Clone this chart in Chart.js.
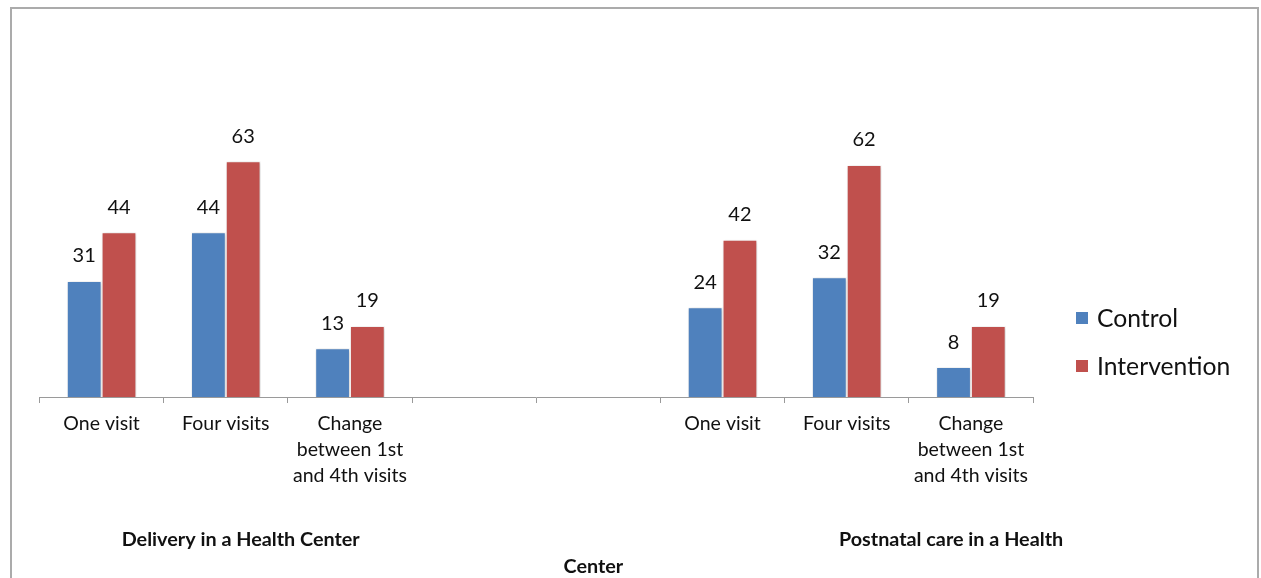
<!DOCTYPE html>
<html>
<head>
<meta charset="utf-8">
<script src="https://cdn.jsdelivr.net/npm/chart.js@4/dist/chart.umd.min.js"></script>
<style>
  html, body { margin: 0; padding: 0; background: #fff; }
  body { width: 1261px; height: 578px; overflow: hidden; position: relative; }
  #frame { position: absolute; left: 10px; top: 7px; width: 1249px; height: 640px;
           border: 2px solid #ababab; box-sizing: border-box; }
  #wrap { position: absolute; left: 0; top: 0; width: 1261px; height: 578px; }
</style>
</head>
<body>
<div id="frame"></div>
<div id="wrap"><canvas id="c" width="1261" height="578"></canvas></div>
<script>
// Visit categories along the x axis (two blank slots separate the two groups)
const categories = [
  'One visit', 'Four visits', ['Change', 'between 1st', 'and 4th visits'],
  '', '',
  'One visit', 'Four visits', ['Change', 'between 1st', 'and 4th visits']
];
const seriesNames = ['Control', 'Intervention'];
const controlValues      = [31, 44, 13, null, null, 24, 32, 8];
const interventionValues = [44, 63, 19, null, null, 42, 62, 19];
const groupTitles = ['Delivery in a Health Center', 'Postnatal care in a Health', 'Center'];

const BLUE = '#4F81BD';
const RED = '#C0504D';
const FONT = 'Lato, "Open Sans", sans-serif';

// Soft drop shadow behind the bars
const barShadow = {
  id: 'barShadow',
  beforeDatasetsDraw(chart) {
    const ctx = chart.ctx;
    ctx.save();
    ctx.shadowColor = 'rgba(0,0,0,0.22)';
    ctx.shadowBlur = 4;
    ctx.shadowOffsetX = 1;
    ctx.shadowOffsetY = 1;
  },
  afterDatasetsDraw(chart) { chart.ctx.restore(); }
};

// Value labels above each bar
const valueLabels = {
  id: 'valueLabels',
  afterDatasetsDraw(chart) {
    const ctx = chart.ctx;
    ctx.save();
    ctx.font = '20px ' + FONT;
    ctx.fillStyle = '#111';
    ctx.textAlign = 'center';
    ctx.textBaseline = 'middle';
    chart.data.datasets.forEach((ds, di) => {
      chart.getDatasetMeta(di).data.forEach((bar, i) => {
        const v = ds.data[i];
        if (v === null || v === undefined) return;
        ctx.fillText(String(v), bar.x, bar.y - 25);
      });
    });
    ctx.restore();
  }
};

// Group titles under the category labels, plus the legend on the right
const groupsAndLegend = {
  id: 'groupsAndLegend',
  afterDraw(chart) {
    const ctx = chart.ctx;
    const x = chart.scales.x;
    ctx.save();
    ctx.fillStyle = '#111';
    ctx.textAlign = 'center';
    ctx.textBaseline = 'middle';
    ctx.font = 'bold 19.8px ' + FONT;
    const spots = [[1.12, 540], [6.84, 540], [3.96, 567]];
    groupTitles.forEach((t, i) => {
      ctx.fillText(t, x.getPixelForValue(spots[i][0]), spots[i][1]);
    });

    ctx.font = '24.7px ' + FONT;
    ctx.textAlign = 'left';
    const colors = [BLUE, RED];
    const rows = [318, 366];
    seriesNames.forEach((name, i) => {
      ctx.fillStyle = colors[i];
      ctx.fillRect(1076, rows[i] - 6, 12, 12);
      ctx.fillStyle = '#111';
      ctx.fillText(name, 1097, rows[i] + 1);
    });
    ctx.restore();
  }
};

new Chart(document.getElementById('c'), {
  type: 'bar',
  data: {
    labels: categories,
    datasets: [
      { label: seriesNames[0], data: controlValues, backgroundColor: BLUE,
        borderColor: '#fff', borderWidth: 1, categoryPercentage: 0.56, barPercentage: 1 },
      { label: seriesNames[1], data: interventionValues, backgroundColor: RED,
        borderColor: '#fff', borderWidth: 1, categoryPercentage: 0.56, barPercentage: 1 }
    ]
  },
  options: {
    responsive: false,
    animation: false,
    layout: { padding: { left: 39.5, right: 228, top: 135, bottom: 81 } },
    plugins: { legend: { display: false }, tooltip: { enabled: false } },
    scales: {
      x: {
        offset: true,
        grid: { display: true, drawOnChartArea: false, drawTicks: true, tickLength: 6,
                color: '#9a9a9a', offset: true },
        border: { display: true, color: '#9a9a9a', width: 1 },
        ticks: { color: '#111', padding: 8, maxRotation: 0, autoSkip: false,
                 font: { family: FONT, size: 19.5, lineHeight: 1.333 } }
      },
      y: {
        display: false,
        min: 0,
        max: 70,
        grid: { display: false }
      }
    }
  },
  plugins: [barShadow, valueLabels, groupsAndLegend]
});
</script>
</body>
</html>
